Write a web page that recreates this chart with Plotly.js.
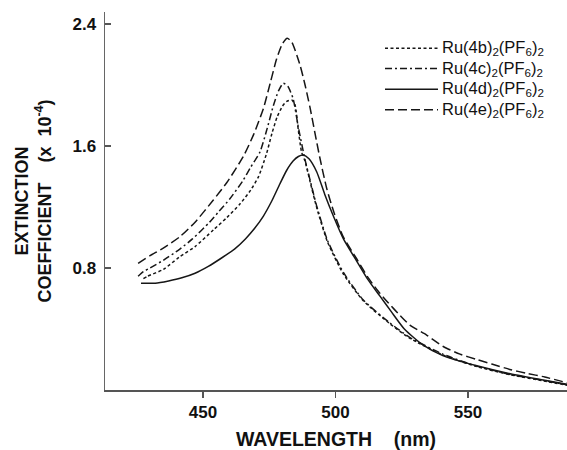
<!DOCTYPE html>
<html>
<head>
<meta charset="utf-8">
<script src="https://cdn.plot.ly/plotly-3.0.1.min.js"></script>
<style>html,body{margin:0;padding:0;background:#fff;}#chart{width:567px;height:450px;}</style>
</head>
<body>
<div id="chart"></div>
<script>
// Series names
const seriesNames = [
  'Ru(4b)<sub>2</sub>(PF<sub>6</sub>)<sub>2</sub>',
  'Ru(4c)<sub>2</sub>(PF<sub>6</sub>)<sub>2</sub>',
  'Ru(4d)<sub>2</sub>(PF<sub>6</sub>)<sub>2</sub>',
  'Ru(4e)<sub>2</sub>(PF<sub>6</sub>)<sub>2</sub>'
];

// Ru(4b)2(PF6)2 — wavelength (nm) and extinction coefficient (x 10^-4)
const wl4b = [427.5, 429, 435, 441, 447, 454, 459, 464, 468, 471, 474, 476, 478, 480, 481.5, 483.5, 484.7, 486, 487.2, 488.5, 490.5, 493, 497, 503, 510.5, 520.5, 528, 540.5, 553, 566, 580, 588];
const ext4b = [0.73, 0.745, 0.79, 0.87, 0.94, 1.05, 1.13, 1.22, 1.31, 1.40, 1.55, 1.68, 1.79, 1.86, 1.89, 1.90, 1.87, 1.70, 1.56, 1.50, 1.36, 1.19, 0.97, 0.76, 0.585, 0.435, 0.34, 0.23, 0.155, 0.10, 0.055, 0.03];

// Ru(4c)2(PF6)2
const wl4c = [425.5, 427.5, 430, 435, 441, 446, 452.5, 456, 460, 465, 468, 471.5, 474, 476.5, 478.5, 480.3, 482, 484, 486, 488.5, 490.5, 493, 497, 503, 510.5, 520.5, 528, 540.5, 553, 566, 580, 588];
const ext4c = [0.745, 0.775, 0.80, 0.85, 0.92, 0.99, 1.10, 1.17, 1.25, 1.37, 1.46, 1.56, 1.70, 1.86, 1.96, 2.01, 1.99, 1.91, 1.72, 1.51, 1.37, 1.20, 0.98, 0.77, 0.59, 0.44, 0.345, 0.235, 0.158, 0.102, 0.058, 0.032];

// Ru(4d)2(PF6)2
const wl4d = [426.6, 432, 437, 442, 447, 452, 457, 462, 466, 469.5, 472.8, 476, 479, 481.6, 484, 486, 487.8, 490, 492.9, 496, 499.2, 503, 508, 512, 516.8, 521, 526, 533, 540.5, 553, 566, 580, 588];
const ext4d = [0.70, 0.70, 0.715, 0.735, 0.765, 0.81, 0.865, 0.925, 0.99, 1.06, 1.14, 1.24, 1.35, 1.44, 1.50, 1.53, 1.54, 1.515, 1.43, 1.28, 1.14, 0.99, 0.845, 0.73, 0.615, 0.515, 0.40, 0.295, 0.225, 0.16, 0.106, 0.06, 0.035];

// Ru(4e)2(PF6)2
const wl4e = [425.5, 430, 435, 441.3, 447, 453.9, 459, 465.2, 469, 472.8, 475.5, 477.8, 480, 481.8, 483.5, 486.6, 488.5, 490.4, 492.3, 494, 496.7, 499.5, 502.9, 508, 512, 516, 520, 524.3, 528.1, 534.4, 540.7, 547, 553.3, 559, 565.8, 572, 579, 588];
const ext4e = [0.83, 0.88, 0.93, 1.005, 1.10, 1.245, 1.36, 1.53, 1.67, 1.845, 2.02, 2.17, 2.27, 2.305, 2.28, 2.13, 2.00, 1.85, 1.68, 1.53, 1.32, 1.16, 1.005, 0.86, 0.745, 0.65, 0.57, 0.49, 0.425, 0.36, 0.285, 0.235, 0.20, 0.17, 0.135, 0.11, 0.085, 0.045];

// Tick labels
const xTickVals = [450, 500, 550];
const xTickText = ['450', '500', '550'];
const yTickVals = [0.8, 1.6, 2.4];
const yTickText = ['0.8', '1.6', '2.4'];

const lineColor = '#161616';
const dashes = ['3px,2.5px', '7px,3px,2px,3px', 'solid', '9px,4px'];
const xs = [wl4b, wl4c, wl4d, wl4e];
const ys = [ext4b, ext4c, ext4d, ext4e];

const traces = seriesNames.map((name, i) => ({
  type: 'scatter',
  mode: 'lines',
  name: name,
  x: xs[i],
  y: ys[i],
  line: {color: lineColor, width: 1.5, dash: dashes[i], shape: 'spline', smoothing: 0.6},
  hoverinfo: 'skip',
  showlegend: false
}));

const fontFam = '"Liberation Sans", Arial, Helvetica, sans-serif';

// Legend drawn as key lines + labels (paper coordinates)
const plotL = 105, plotW = 462, plotB = 390.5, plotH = 378.5;
const px2x = p => (p - plotL) / plotW;
const px2y = p => (plotB - p) / plotH;
const legendRowsPx = [48.3, 68.6, 89.3, 110];
const shapes = [];
const annotations = [];
seriesNames.forEach((name, i) => {
  const yy = px2y(legendRowsPx[i]);
  shapes.push({
    type: 'line', xref: 'paper', yref: 'paper',
    x0: px2x(385), x1: px2x(438), y0: yy, y1: yy,
    line: {color: lineColor, width: 1.5, dash: dashes[i]}
  });
  annotations.push({
    xref: 'paper', yref: 'paper', x: px2x(440), y: yy,
    xanchor: 'left', yanchor: 'middle', showarrow: false,
    text: name,
    font: {family: fontFam, size: 16.5, color: '#111'}
  });
});

const layout = {
  width: 567,
  height: 450,
  margin: {l: 105, r: 0, t: 12, b: 59.5, pad: 0},
  paper_bgcolor: '#ffffff',
  plot_bgcolor: '#ffffff',
  showlegend: false,
  shapes: shapes,
  annotations: annotations,
  xaxis: {
    range: [413.0, 587.4],
    showgrid: false, zeroline: false,
    showline: true, linecolor: '#555', linewidth: 1.5,
    ticks: 'outside', ticklen: 6, tickwidth: 1.5, tickcolor: '#555',
    tickmode: 'array', tickvals: xTickVals, ticktext: xTickText,
    tickfont: {family: fontFam, size: 17, color: '#111', weight: 'bold'},
    title: {text: '\u00a0\u00a0\u00a0WAVELENGTH\u00a0\u00a0\u00a0\u00a0(nm)', standoff: 20,
            font: {family: fontFam, size: 19.5, color: '#111', weight: 'bold'}},
    automargin: false,
    fixedrange: true
  },
  yaxis: {
    range: [0, 2.477],
    showgrid: false, zeroline: false,
    showline: true, linecolor: '#666', linewidth: 1.5,
    ticks: 'inside', ticklen: 6, tickwidth: 1.5, tickcolor: '#555',
    tickmode: 'array', tickvals: yTickVals, ticktext: yTickText,
    tickfont: {family: fontFam, size: 17, color: '#111', weight: 'bold'},
    ticklabelstandoff: 4,
    title: {text: 'EXTINCTION<br>COEFFICIENT\u00a0\u00a0\u00a0\u00a0(x\u00a0\u00a010<sup>-4</sup>)', standoff: 16,
            font: {family: fontFam, size: 18, color: '#111', weight: 'bold'}},
    automargin: false,
    fixedrange: true
  }
};

Plotly.newPlot('chart', traces, layout, {displayModeBar: false, staticPlot: true});
</script>
</body>
</html>
